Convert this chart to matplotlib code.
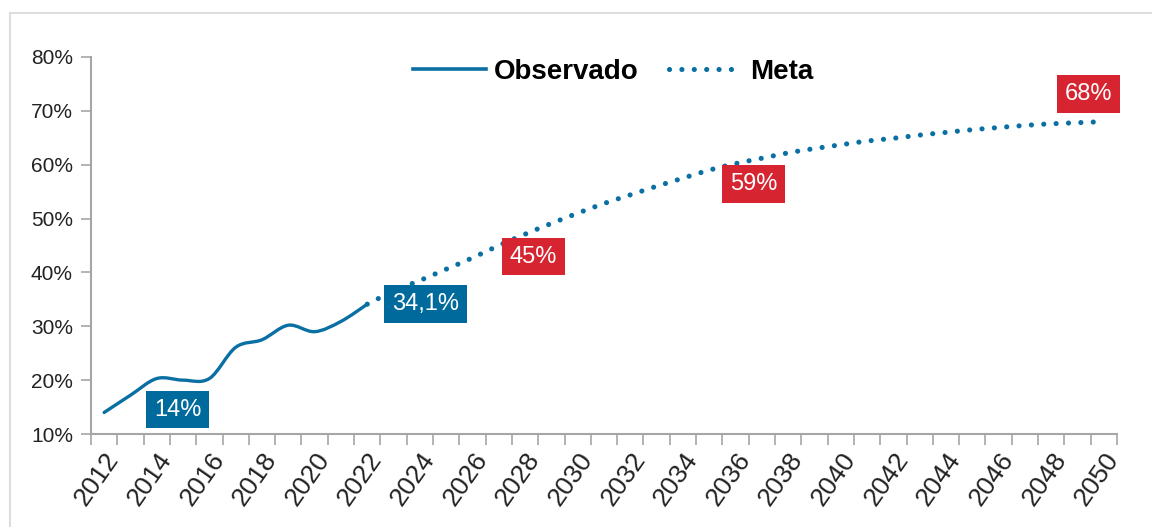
import matplotlib
matplotlib.use("Agg")
import matplotlib.pyplot as plt
import numpy as np
from matplotlib.path import Path
from matplotlib.patches import PathPatch
from matplotlib.lines import Line2D

plt.rcParams['font.family'] = ['Liberation Sans', 'DejaVu Sans']

# ---- data ----
years = list(range(2012, 2051))
obs_years = list(range(2012, 2023))
obs_values = [14.0, 17.2, 20.3, 20.0, 20.3, 26.1, 27.5, 30.2, 29.0, 30.9, 34.1]
meta_years = list(range(2022, 2051))
meta_values = [34.1, 36.5, 38.5, 40.6, 42.7, 45.0, 47.1, 49.1, 51.0, 52.8,
               54.4, 56.0, 57.5, 59.0, 60.2, 61.2, 62.2, 63.0, 63.7, 64.4,
               64.9, 65.5, 66.0, 66.5, 66.9, 67.3, 67.6, 67.8, 68.0]
labels_year = [2012, 2022, 2027, 2035, 2050]
labels_text = ["14%", "34,1%", "45%", "59%", "68%"]
labels_value = [14.0, 34.1, 45.0, 59.0, 68.0]
labels_color = ["#006a9c", "#006a9c", "#d62430", "#d62430", "#d62430"]
labels_offset = [(53, 2), (42, 0), (25, -8), (32, -10), (-11, 20)]
yticks = [10, 20, 30, 40, 50, 60, 70, 80]

BLUE = "#0a6fa3"
DOTS = (0, (0.01, 2.4))

def idx(y):
    return years.index(y)

def smooth_path(xs, ys):
    pts = np.column_stack([xs, ys]).astype(float)
    n = len(pts)
    verts = [pts[0]]
    codes = [Path.MOVETO]
    for i in range(n - 1):
        p0 = pts[i - 1] if i > 0 else pts[i]
        p1 = pts[i]
        p2 = pts[i + 1]
        p3 = pts[i + 2] if i + 2 < n else pts[i + 1]
        c1 = p1 + (p2 - p0) / 6.0
        c2 = p2 - (p3 - p1) / 6.0
        verts += [c1, c2, p2]
        codes += [Path.CURVE4] * 3
    return Path(verts, codes)

W, H = 1152, 527
fig = plt.figure(figsize=(W / 100, H / 100), dpi=100)
ax = fig.add_axes([91 / W, 1 - 434 / H, (1117 - 91) / W, (434 - 57) / H])

ox = [idx(y) for y in obs_years]
mx = [idx(y) for y in meta_years]

ax.add_patch(PathPatch(smooth_path(mx, meta_values), fill=False, edgecolor=BLUE,
                       lw=3.7, linestyle=DOTS, capstyle='round', zorder=3))
ax.add_patch(PathPatch(smooth_path(ox, obs_values), fill=False, edgecolor=BLUE,
                       lw=2.4, capstyle='round', joinstyle='round', zorder=4))

for yr, txt, val, col, off in zip(labels_year, labels_text, labels_value, labels_color, labels_offset):
    ax.annotate(txt, xy=(idx(yr), val), xytext=off, textcoords='offset points',
                ha='center', va='center', color='white', fontsize=17,
                bbox=dict(boxstyle='square,pad=0.33', fc=col, ec='none'), zorder=5)

ax.set_xlim(-0.5, len(years) - 0.5)
ax.set_ylim(10, 80)
ax.set_yticks(yticks)
ax.set_yticklabels([f"{v}%" for v in yticks], fontsize=15, color='#222222')

ax.set_xticks([i for i, y in enumerate(years) if y % 2 == 0])
ax.set_xticklabels([str(y) for y in years if y % 2 == 0], rotation=55,
                   ha='right', va='top', rotation_mode='anchor', fontsize=19, color='#222222')
ax.set_xticks(np.arange(-0.5, len(years), 1.0), minor=True)
ax.tick_params(axis='x', which='major', length=0, pad=10)
ax.tick_params(axis='x', which='minor', length=8, width=1.2, color='#a6a6a6', direction='out')
ax.tick_params(axis='y', length=7, width=1.2, color='#a6a6a6', direction='out', pad=6)

for s in ['top', 'right']:
    ax.spines[s].set_visible(False)
for s in ['left', 'bottom']:
    ax.spines[s].set_color('#a6a6a6')
    ax.spines[s].set_linewidth(1.5)

handles = [Line2D([], [], color=BLUE, lw=2.6),
           Line2D([], [], color=BLUE, lw=3.7, linestyle=DOTS, dash_capstyle='round')]
ax.legend(handles, ["Observado", "Meta"], loc='center', bbox_to_anchor=(0.509, 0.96),
          ncol=2, frameon=False, prop={'weight': 'bold', 'size': 20},
          handlelength=2.6, handletextpad=0.3, columnspacing=1.1)

# light frame
fig.add_artist(Line2D([10 / W, 1], [1 - 13 / H, 1 - 13 / H], transform=fig.transFigure,
                      color='#dedede', lw=1.5))
fig.add_artist(Line2D([10 / W, 10 / W], [0, 1 - 13 / H], transform=fig.transFigure,
                      color='#dedede', lw=1.5))

fig.savefig("out.png", dpi=100)
